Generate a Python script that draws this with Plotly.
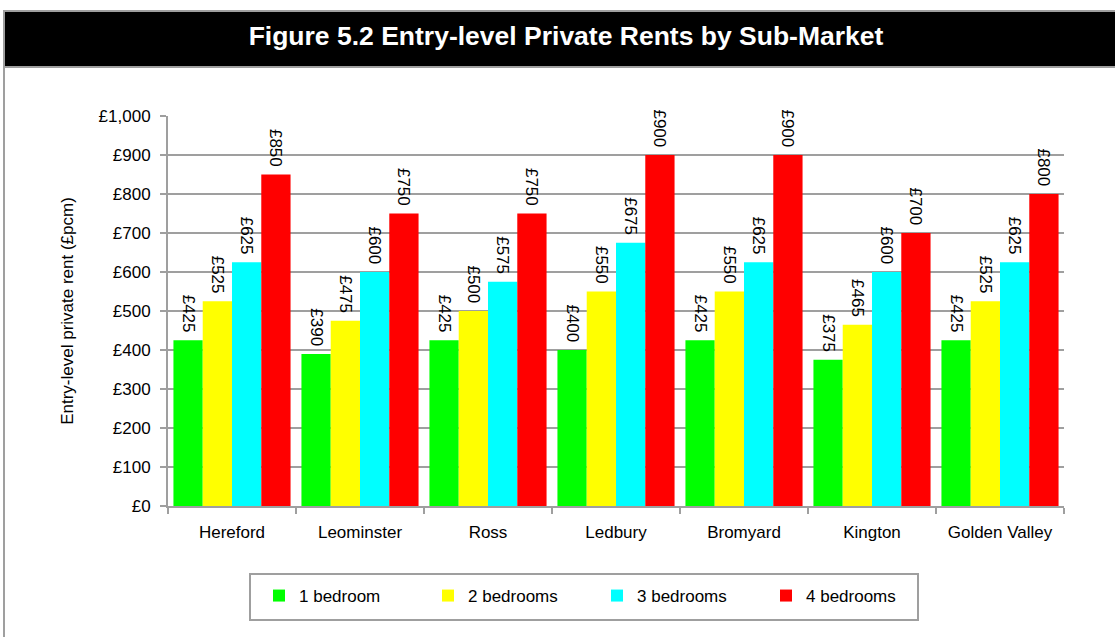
import plotly.graph_objects as go

# ---- data ----
sub_markets = ["Hereford", "Leominster", "Ross", "Ledbury", "Bromyard", "Kington", "Golden Valley"]
one_bed = [425, 390, 425, 400, 425, 375, 425]
two_bed = [525, 475, 500, 550, 550, 465, 525]
three_bed = [625, 600, 575, 675, 625, 600, 625]
four_bed = [850, 750, 750, 900, 900, 700, 800]
series_names = ["1 bedroom", "2 bedrooms", "3 bedrooms", "4 bedrooms"]
series_colors = ["#00ff00", "#ffff00", "#00ffff", "#ff0000"]
y_ticks = [0, 100, 200, 300, 400, 500, 600, 700, 800, 900, 1000]
y_tick_labels = ["£0", "£100", "£200", "£300", "£400", "£500", "£600", "£700", "£800", "£900", "£1,000"]

title_text = "Figure 5.2 Entry-level Private Rents by Sub-Market"
y_title = "Entry-level private rent (£pcm)"

# ---- layout geometry (pixels) ----
W_FIG, H_FIG = 1115, 637
L, R, T, B = 168, 1064, 116, 506
PW, PH = R - L, B - T


def px(x):
    return (x - L) / PW


def py(y):
    return (B - y) / PH


FONT = "Liberation Sans, Arial, sans-serif"
GRAY = "#9f9f9f"

fig = go.Figure()
for name, vals, col in zip(series_names, [one_bed, two_bed, three_bed, four_bed], series_colors):
    fig.add_trace(go.Bar(
        x=sub_markets, y=vals, name=name,
        marker=dict(color=col, line=dict(width=0)),
        text=["£" + str(v) + "\u00a0" for v in vals], textposition="outside", textangle=90,
        textfont=dict(family=FONT, size=17, color="black"),
        cliponaxis=False, constraintext="none", hoverinfo="x+y+name",
    ))

shapes = [
    # outer frame
    dict(type="rect", xref="paper", yref="paper", x0=px(4), x1=px(1125), y0=py(11), y1=py(650),
         line=dict(color=GRAY, width=2), fillcolor="rgba(0,0,0,0)", layer="below"),
    # title bar
    dict(type="rect", xref="paper", yref="paper", x0=px(4), x1=px(1125), y0=py(11), y1=py(67),
         line=dict(color=GRAY, width=2), fillcolor="black", layer="above"),
    # legend box
    dict(type="rect", xref="paper", yref="paper", x0=px(250), x1=px(918), y0=py(574), y1=py(620),
         line=dict(color=GRAY, width=2), fillcolor="rgba(0,0,0,0)", layer="above"),
]

fig.update_layout(
    width=W_FIG, height=H_FIG,
    margin=dict(l=L, r=W_FIG - R, t=T, b=H_FIG - B, autoexpand=False),
    paper_bgcolor="white", plot_bgcolor="white",
    font=dict(family=FONT, size=17, color="black"),
    title=dict(text="<b>" + title_text + "</b>", x=566 / W_FIG, xanchor="center",
               y=1 - 36 / H_FIG, yanchor="middle", xref="container", yref="container",
               font=dict(family=FONT, size=26.5, color="white")),
    barmode="group", bargap=0.085, bargroupgap=0,
    shapes=shapes,
    showlegend=True,
    legend=dict(orientation="h", x=px(259), xanchor="left", y=py(578), yanchor="top",
                entrywidth=124, entrywidthmode="pixels",
                font=dict(family=FONT, size=17, color="black"),
                bgcolor="rgba(0,0,0,0)", borderwidth=0, traceorder="normal"),
    xaxis=dict(type="category", showline=True, linecolor=GRAY, linewidth=2,
               ticks="outside", tickson="boundaries", ticklen=6, tickwidth=2, tickcolor=GRAY,
               showgrid=False, ticklabelstandoff=10,
               tickfont=dict(family=FONT, size=17, color="black")),
    yaxis=dict(range=[0, 1000], tickmode="array", tickvals=y_ticks, ticktext=y_tick_labels,
               showline=True, linecolor=GRAY, linewidth=2,
               ticks="outside", ticklen=6, tickwidth=2, tickcolor=GRAY,
               showgrid=True, gridcolor=GRAY, gridwidth=2, zeroline=False,
               ticklabelstandoff=6,
               tickfont=dict(family=FONT, size=17, color="black")
               , title=dict(text=y_title, standoff=21, font=dict(family=FONT, size=17, color="black"))),
)

fig.write_html("out.html", config={"displayModeBar": False},
               post_script="document.body.style.margin='0px';")
